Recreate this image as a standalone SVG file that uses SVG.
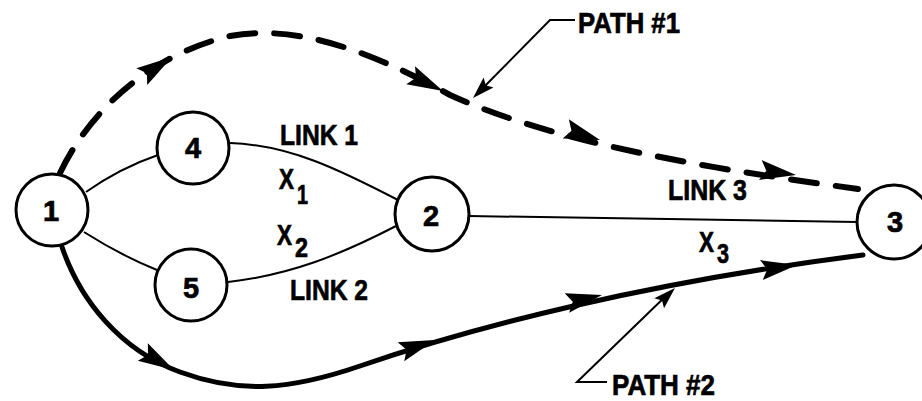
<svg xmlns="http://www.w3.org/2000/svg" xmlns:xlink="http://www.w3.org/1999/xlink" width="922" height="401" viewBox="0 0 922 401">
<style>
.node circle{fill:#fff;stroke:#000;stroke-width:3}
text{font-family:"Liberation Sans Narrow","Liberation Sans",Arial,sans-serif;font-weight:bold;fill:#000;stroke:#000;stroke-width:0.7;font-size:30px}
.num{text-anchor:middle;font-size:29px}
.sub{font-size:27px}
.edge{fill:none;stroke:#000;stroke-width:2}
.p1{fill:none;stroke:#000;stroke-width:6;stroke-dasharray:26 19;stroke-linecap:round}
.p2{fill:none;stroke:#000;stroke-width:5;stroke-linecap:round}
.lead{fill:none;stroke:#000;stroke-width:2}
</style>
<defs>
<path id="ah" d="M0,0 L-36,-10 L-30,0 L-36,10 Z" fill="#000"/>
<path id="ahs" d="M0,0 L-22,-7 L-18,0 L-22,7 Z" fill="#000"/>
</defs>
<rect width="922" height="401" fill="#fff"/>
<g id="connectors">
<path class="edge" d="M86,192 Q120,168 158,155"/>
<path class="edge" d="M230,143 C290,145 340,170 398,200"/>
<path class="edge" d="M84,232 Q120,255 157,270"/>
<path class="edge" d="M228,282 C290,275 340,255 396,226"/>
<path class="edge" d="M469,216 L857,222"/>
<path id="path1" class="p1" d="M60,173 C90,110 150,55 230,36 C290,25 360,45 450,95 C560,145 720,170 858,189"/>
<use xlink:href="#ah" transform="translate(172,57) rotate(-33)"/>
<use xlink:href="#ah" transform="translate(443,91) rotate(26)"/>
<use xlink:href="#ah" transform="translate(600,140) rotate(18)"/>
<use xlink:href="#ah" transform="translate(796,175) rotate(8)"/>
<path id="path2" class="p2" d="M62,247 C80,300 120,350 180,372 C240,394 290,390 360,366 C480,325 650,282 863,255"/>
<use xlink:href="#ah" transform="translate(174,370) rotate(30)"/>
<use xlink:href="#ah" transform="translate(435,340) rotate(-19)"/>
<use xlink:href="#ah" transform="translate(602,295) rotate(-13)"/>
<use xlink:href="#ah" transform="translate(797,265) rotate(-8)"/>
<path class="lead" d="M575,20 L550,20 L478,93"/>
<use xlink:href="#ahs" transform="translate(473,98) rotate(135)"/>
<path class="lead" d="M607,382 L577,382 L670,292"/>
<use xlink:href="#ahs" transform="translate(675,288) rotate(-44)"/>
</g>
<g id="node1" class="node"><circle cx="52" cy="210" r="36"/><text class="num" x="51" y="221">1</text></g>
<g id="node4" class="node"><circle cx="193" cy="148" r="36"/><text class="num" x="193" y="158">4</text></g>
<g id="node5" class="node"><circle cx="191" cy="285" r="36"/><text class="num" x="191" y="298">5</text></g>
<g id="node2" class="node"><circle cx="432" cy="214" r="37"/><text class="num" x="431" y="226">2</text></g>
<g id="node3" class="node"><circle cx="894" cy="222" r="37"/><text class="num" x="895" y="232">3</text></g>
<g id="labels">
<text x="280" y="145" textLength="78" lengthAdjust="spacingAndGlyphs">LINK 1</text>
<text x="279" y="189" textLength="15" lengthAdjust="spacingAndGlyphs">X</text>
<text class="sub" x="297" y="204" textLength="11" lengthAdjust="spacingAndGlyphs">1</text>
<text x="277" y="245" textLength="15" lengthAdjust="spacingAndGlyphs">X</text>
<text class="sub" x="295" y="257" textLength="13" lengthAdjust="spacingAndGlyphs">2</text>
<text x="290" y="300" textLength="78" lengthAdjust="spacingAndGlyphs">LINK 2</text>
<text x="668" y="200" textLength="79" lengthAdjust="spacingAndGlyphs">LINK 3</text>
<text x="699" y="252" textLength="15" lengthAdjust="spacingAndGlyphs">X</text>
<text class="sub" x="717" y="263" textLength="12" lengthAdjust="spacingAndGlyphs">3</text>
<text x="578" y="33" textLength="102" lengthAdjust="spacingAndGlyphs">PATH #1</text>
<text x="612" y="395" textLength="103" lengthAdjust="spacingAndGlyphs">PATH #2</text>
</g>
</svg>
